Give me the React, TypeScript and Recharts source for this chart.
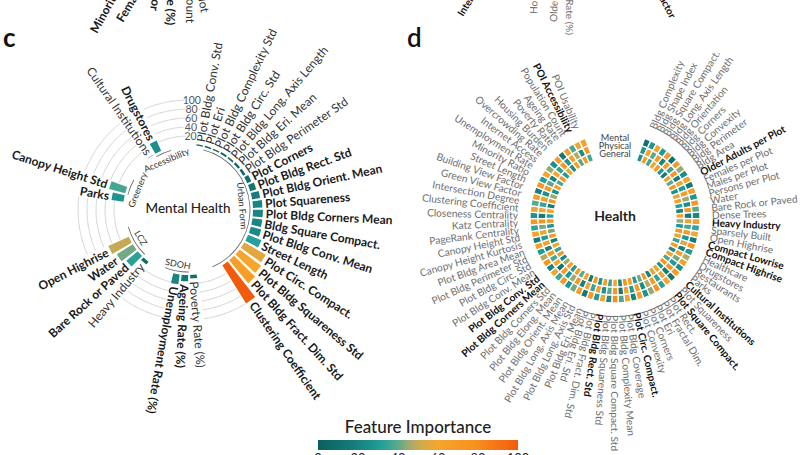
import React from 'react';
import {
  RadialBarChart, RadialBar, PolarAngleAxis, PolarRadiusAxis,
  PieChart, Pie, Cell, Sector,
} from 'recharts';

const FONT = "Lato, 'Noto Sans', 'DejaVu Sans', sans-serif";
const RAD = Math.PI / 180;

// ---------- colour scale (Feature Importance) ----------
const cmapStops: [number, string][] = [
  [0, '#0d5f61'], [18, '#167c7a'], [32, '#23a09a'], [40, '#5aa98f'], [46, '#a6aa6c'],
  [52, '#d4a94a'], [60, '#f4a62c'], [78, '#f8911f'], [100, '#f35b0c'],
];
const colorbarTicks = [0, 20, 40, 60, 80, 100];

// ---------- panel c data ----------
const cUrbanForm = [
  'Plot Bldg Conv. Std', 'Plot Eri', 'Plot Bldg Complexity Std', 'Plot Bldg Circ. Std',
  'Plot Bldg Long. Axis Length', 'Plot Bldg Eri. Mean', 'Plot Bldg Perimeter Std', 'Plot Corners',
  'Plot Bldg Rect. Std', 'Plot Bldg Orient. Mean', 'Plot Squareness', 'Plot Bldg Corners Mean',
  'Bldg Square Compact.', 'Plot Bldg Conv. Mean', 'Street Length', 'Plot Circ. Compact.',
  'Plot Bldg Squareness Std', 'Plot Bldg Fract. Dim. Std', 'Clustering Coefficient',
];
const cUrbanFormValues = [3, 3, 3, 4, 4, 5, 6, 10, 14, 18, 21, 22, 22, 24, 32, 55, 60, 66, 100];
const cSdoh = ['Poverty Rate (%)', 'Ageing Rate (%)', 'Unemployment Rate (%)'];
const cSdohValues = [8, 14, 22];
const cLcz = ['Heavy Industry', 'Bare Rock or Paved', 'Water', 'Open Highrise'];
const cLczValues = [8, 33, 42, 50];
const cGreenery = ['Parks', 'Canopy Height Std'];
const cGreeneryValues = [27, 37];
const cAccess = ['Cultural Institutions', 'Drugstores'];
const cAccessValues = [1, 25];
const cBold = [
  'Plot Corners', 'Plot Bldg Rect. Std', 'Plot Bldg Orient. Mean', 'Plot Squareness',
  'Plot Bldg Corners Mean', 'Bldg Square Compact.', 'Plot Bldg Conv. Mean', 'Street Length',
  'Plot Circ. Compact.', 'Plot Bldg Squareness Std', 'Plot Bldg Fract. Dim. Std',
  'Clustering Coefficient', 'Ageing Rate (%)', 'Unemployment Rate (%)', 'Bare Rock or Paved',
  'Water', 'Open Highrise', 'Parks', 'Canopy Height Std', 'Drugstores',
];
const cGroupNames = ['Urban Form', 'SDOH', 'LCZ', 'Greenery', 'Accessibility'];
const cGapSlots = [3, 3, 4, 4, 4];
const cTicks = [20, 40, 60, 80, 100];

// ---------- panel d data ----------
const dFeatures = [
  'Bldg Complexity', 'Bldg Shape Index', 'Bldg Square Compact.', 'Bldg Long. Axis Length',
  'Bldg Orientation', 'Bldg Corners', 'Bldg Convexity', 'Bldg Perimeter', 'Bldg Area',
  'Older Adults per Plot', 'Females per Plot', 'Males per Plot', 'Persons per Plot', 'Water',
  'Bare Rock or Paved', 'Dense Trees', 'Heavy Industry', 'Sparsely Built', 'Open Highrise',
  'Compact Lowrise', 'Compact Highrise', 'Healthcare', 'Drugstores', 'Restaurants', 'Parks',
  'Cultural Institutions', 'Plot Squareness', 'Plot Square Compact.', 'Plot Rect.',
  'Plot Fractal Dim.', 'Plot Eri', 'Plot Corners', 'Plot Convexity', 'Plot Circ. Compact.',
  'Plot Bldg Coverage', 'Plot Bldg Complexity Mean', 'Plot Bldg Square Compact. Std',
  'Plot Bldg Squareness Std', 'Plot Bldg Rect. Std', 'Plot Bldg Fract. Dim. Std',
  'Plot Bldg Eri. Std', 'Plot Bldg Eri. Mean', 'Plot Bldg Long. Axis Std',
  'Plot Bldg Long. Axis Mean', 'Plot Bldg Orient. Mean', 'Plot Bldg Elong. Mean',
  'Plot Bldg Corners Std', 'Plot Bldg Corners Mean', 'Plot Bldg Conv. Std', 'Plot Bldg Conv. Mean',
  'Plot Bldg Circ. Std', 'Plot Bldg Perimeter Std', 'Plot Bldg Area Mean', 'Canopy Height Kurtosis',
  'Canopy Height Std', 'PageRank Centrality', 'Katz Centrality', 'Closeness Centrality',
  'Clustering Coefficient', 'Intersection Degree', 'Green View Factor', 'Building View Factor',
  'Street Length', 'Minority Ratio', 'Unemployment Rate', 'Internet Access', 'Overcrowding Rate',
  'Housing Burden', 'Poverty Rate', 'Ageing Rate', 'Population Count', 'POI Accessibility',
  'POI Usability',
];
const dBold = [
  'Older Adults per Plot', 'Heavy Industry', 'Compact Lowrise', 'Compact Highrise',
  'Cultural Institutions', 'Plot Square Compact.', 'Plot Circ. Compact.', 'Plot Bldg Rect. Std',
  'Plot Bldg Corners Mean', 'Plot Bldg Conv. Std', 'POI Accessibility',
];
const dMental = [
  12, 28, 62, 30, 66, 10, 70, 45, 25, 62, 15, 68, 28, 72, 40, 22, 66, 35, 58, 18, 74, 30, 48, 64, 25,
  70, 12, 60, 33, 75, 44, 27, 68, 20, 62, 38, 80, 24, 57, 30, 70, 15, 65, 42, 28, 72, 36, 60, 22, 76,
  48, 30, 66, 18, 63, 34, 71, 26, 55, 40, 68, 20, 74, 32, 62, 45, 25, 70, 15, 66, 38, 58, 64,
];
const dPhysical = [
  28, 62, 40, 70, 22, 66, 35, 74, 18, 58, 30, 68, 45, 25, 72, 15, 63, 38, 70, 28, 55, 20, 66, 42, 30,
  75, 18, 60, 34, 70, 48, 24, 68, 30, 62, 15, 72, 40, 26, 64, 35, 58, 20, 74, 45, 28, 66, 12, 60, 38,
  70, 22, 64, 30, 56, 42, 75, 18, 62, 35, 68, 26, 72, 40, 20, 60, 34, 74, 28, 66, 48, 25, 70,
];
const dGeneral = [
  25, 70, 36, 60, 72, 30, 18, 64, 40, 74, 26, 55, 68, 32, 20, 66, 45, 28, 72, 60, 35, 70, 24, 62, 38,
  74, 28, 56, 66, 20, 70, 42, 30, 64, 75, 22, 58, 36, 68, 26, 72, 15, 60, 40, 70, 30, 64, 46, 24, 72,
  35, 60, 20, 68, 42, 28, 74, 32, 62, 18, 70, 45, 26, 66, 38, 72, 30, 58, 24, 64, 40, 70, 36,
];
const dRingNames = ['Mental', 'Physical', 'General'];

// ---------- helpers ----------
function hexToRgb(h: string) {
  const n = parseInt(h.slice(1), 16);
  return [(n >> 16) & 255, (n >> 8) & 255, n & 255];
}
function colorOf(v: number) {
  const x = Math.max(0, Math.min(100, v));
  for (let i = 1; i < cmapStops.length; i++) {
    const [v0, c0] = cmapStops[i - 1];
    const [v1, c1] = cmapStops[i];
    if (x <= v1) {
      const t = (x - v0) / (v1 - v0);
      const a = hexToRgb(c0);
      const b = hexToRgb(c1);
      return `rgb(${a.map((av, k) => Math.round(av + (b[k] - av) * t)).join(',')})`;
    }
  }
  return cmapStops[cmapStops.length - 1][1];
}
const thetaOf = (mid: number) => (((90 - mid) % 360) + 360) % 360;
function radialText(cx: number, cy: number, r: number, mid: number, flip: number) {
  const theta = thetaOf(mid);
  const x = cx + r * Math.cos(mid * RAD);
  const y = cy - r * Math.sin(mid * RAD);
  const right = theta < flip;
  return { x, y, anchor: right ? 'start' : 'end', rot: right ? theta - 90 : theta - 270 };
}

// ---------- build panel c table ----------
const cGroupFeatures = [cUrbanForm, cSdoh, cLcz, cGreenery, cAccess];
const cGroupValues = [cUrbanFormValues, cSdohValues, cLczValues, cGreeneryValues, cAccessValues];
const cData: any[] = [];
let gapId = 0;
cGroupNames.forEach((g, gi) => {
  cGroupFeatures[gi].forEach((n, k) =>
    cData.push({ name: n, value: cGroupValues[gi][k], bold: cBold.includes(n), gap: false }));
  for (let s = 0; s < cGapSlots[gi]; s++) {
    cData.push({ name: `gap${gapId++}`, value: 100, gap: true });
  }
});
const cGroupRing = cGroupNames.flatMap((g, gi) => [
  { name: g, slots: cGroupFeatures[gi].length, gap: false },
  { name: `sep${gi}`, slots: cGapSlots[gi], gap: true },
]);

const C_CX = 188, C_CY = 210, C_IN = 65, C_OUT = 110;
const C_START = 75.75, C_END = -284.25;
const D_CX = 615, D_CY = 218;
const D_START = 69.5, D_END = -249.5;
const dRingRadii = [[77, 85], [69, 77], [61, 69]];
const dRingValues = [dMental, dPhysical, dGeneral];

function CBar(props: any) {
  const { cx, cy, innerRadius, outerRadius, startAngle, endAngle } = props;
  const p = props.payload ?? props;
  const mid = (startAngle + endAngle) / 2;
  const half = Math.abs(endAngle - startAngle) / 2;
  if (p.gap) {
    return (
      <g>
        {cTicks.map((t) => {
          const r = innerRadius + ((outerRadius - innerRadius) * t) / 100;
          const a0 = mid + half, a1 = mid - half;
          const x0 = cx + r * Math.cos(a0 * RAD), y0 = cy - r * Math.sin(a0 * RAD);
          const x1 = cx + r * Math.cos(a1 * RAD), y1 = cy - r * Math.sin(a1 * RAD);
          return <path key={t} d={`M${x0},${y0}A${r},${r} 0 0 1 ${x1},${y1}`} fill="none" stroke="#d4d4d4" strokeWidth={0.9} />;
        })}
      </g>
    );
  }
  const lab = radialText(cx, cy, outerRadius + 3, mid, 197);
  return (
    <g>
      <Sector cx={cx} cy={cy} innerRadius={innerRadius} outerRadius={outerRadius}
        startAngle={mid - half * 0.72} endAngle={mid + half * 0.72} fill={colorOf(p.value)} stroke="none" />
      <text x={lab.x} y={lab.y} transform={`rotate(${lab.rot},${lab.x},${lab.y})`}
        textAnchor={lab.anchor as any} dominantBaseline="central" fontSize={12}
        fontWeight={p.bold ? 700 : 400} fill={p.bold ? '#1a1a1a' : '#333'} fontFamily={FONT}>
        {p.name}
      </text>
    </g>
  );
}

const renderRadiusTick = (tp: any) => (
  <text x={tp.x} y={tp.y} textAnchor="middle" dominantBaseline="central" fontSize={10.5}
    fill="#555" stroke="#fff" strokeWidth={2.5} style={{ paintOrder: 'stroke' }} fontFamily={FONT}>
    {tp.payload.value}
  </text>
);

const renderGroupLabel = (props: any) => {
  const { cx, cy, midAngle, index, innerRadius } = props;
  const seg = cGroupRing[index];
  if (!seg || seg.gap) return <g />;
  const theta = thetaOf(midAngle);
  const r = innerRadius - 7;
  const x = cx + r * Math.cos(midAngle * RAD);
  const y = cy - r * Math.sin(midAngle * RAD);
  const rot = theta > 90 && theta < 270 ? theta - 180 : theta;
  return (
    <text x={x} y={y} transform={`rotate(${rot},${x},${y})`} textAnchor="middle"
      dominantBaseline="central" fontSize={9} fill="#333" fontFamily={FONT}>{seg.name}</text>
  );
};

const renderDLabel = (props: any) => {
  const { cx, cy, midAngle, outerRadius, index } = props;
  const name = dFeatures[index];
  const bold = dBold.includes(name);
  const lab = radialText(cx, cy, outerRadius + 12, midAngle, 199.5);
  return (
    <text x={lab.x} y={lab.y} transform={`rotate(${lab.rot},${lab.x},${lab.y})`}
      textAnchor={lab.anchor as any} dominantBaseline="central" fontSize={10.2}
      fontWeight={bold ? 700 : 400} fill={bold ? '#111' : '#6e6e6e'} fontFamily={FONT}>{name}</text>
  );
};

const abs: React.CSSProperties = { position: 'absolute', left: 0, top: 0 };

export default function App() {
  const dData = dRingValues.map((vals) => dFeatures.map((f, i) => ({ name: f, slot: 1, imp: vals[i] })));
  return (
    <div style={{ position: 'absolute', left: 0, top: 0, width: 808, height: 455, background: '#fff', overflow: 'hidden', fontFamily: FONT }}>
      <div style={abs}>
        <RadialBarChart width={808} height={455} data={cData} layout="centric" cx={C_CX} cy={C_CY}
          innerRadius={C_IN} outerRadius={C_OUT} startAngle={C_START} endAngle={C_END}
          barCategoryGap={0} margin={{ top: 0, right: 0, bottom: 0, left: 0 }}>
          <PolarAngleAxis type="category" dataKey="name" tick={false} axisLine={false} tickLine={false} />
          <RadialBar dataKey="value" shape={CBar} isAnimationActive={false} />
          <PolarRadiusAxis type="number" domain={[0, 100]} angle={88} orientation="middle"
            ticks={cTicks} tick={renderRadiusTick} axisLine={false} tickLine={false} />
        </RadialBarChart>
      </div>
      <div style={abs}>
        <PieChart width={808} height={455} margin={{ top: 0, right: 0, bottom: 0, left: 0 }}>
          <Pie data={cGroupRing} dataKey="slots" cx={C_CX} cy={C_CY} innerRadius={61.6} outerRadius={62.4}
            startAngle={C_START} endAngle={C_END} stroke="none" label={renderGroupLabel} labelLine={false}
            isAnimationActive={false}>
            {cGroupRing.map((s, i) => <Cell key={i} fill={s.gap ? 'none' : '#666'} />)}
          </Pie>
          {dData.map((ring, ri) => (
            <Pie key={ri} data={ring} dataKey="slot" cx={D_CX} cy={D_CY}
              innerRadius={dRingRadii[ri][0]} outerRadius={dRingRadii[ri][1]}
              startAngle={D_START} endAngle={D_END} stroke="#fff" strokeWidth={1.3}
              label={ri === 0 ? renderDLabel : false} labelLine={false} isAnimationActive={false}>
              {ring.map((d, i) => <Cell key={i} fill={colorOf(d.imp)} />)}
            </Pie>
          ))}
        </PieChart>
      </div>
      <svg width={808} height={455} style={{ ...abs, pointerEvents: 'none' }} fontFamily={FONT}>
        <defs>
          <linearGradient id="fi" x1="0" x2="1" y1="0" y2="0">
            {cmapStops.map(([v, c]) => <stop key={v} offset={`${v}%`} stopColor={c} />)}
          </linearGradient>
        </defs>
        {/* panel letters */}
        <text x={3} y={47} fontSize={26} fontWeight={700} fill="#111">c</text>
        <text x={407} y={47} fontSize={26} fontWeight={600} fill="#111">d</text>
        {/* centre captions */}
        <text x={C_CX} y={C_CY - 2} textAnchor="middle" dominantBaseline="central" fontSize={13.5} fontWeight={500} fill="#222">Mental Health</text>
        <text x={D_CX} y={D_CY - 3} textAnchor="middle" dominantBaseline="central" fontSize={14} fontWeight={700} fill="#222">Health</text>
        {dRingNames.map((n, i) => (
          <text key={n} x={D_CX} y={D_CY - (dRingRadii[i][0] + dRingRadii[i][1]) / 2} textAnchor="middle"
            dominantBaseline="central" fontSize={9.2} fill="#444">{n}</text>
        ))}
        {/* cut-off labels of the panels above */}
        <text x={97} y={34} transform="rotate(-61,97,34)" fontSize={12} fontWeight={700} fill="#1a1a1a">Minority Ratio</text>
        <text x={123} y={23} transform="rotate(-59,123,23)" fontSize={12} fontWeight={700} fill="#1a1a1a">Female Ratio</text>
        <text x={150} y={10} transform="rotate(100,150,10)" textAnchor="end" fontSize={12} fontWeight={700} fill="#1a1a1a">Building View Factor</text>
        <text x={166} y={25} transform="rotate(92,166,25)" textAnchor="end" fontSize={12} fontWeight={700} fill="#1a1a1a">Ageing Rate (%)</text>
        <text x={186} y={23} transform="rotate(91,186,23)" textAnchor="end" fontSize={12} fill="#333">Population Count</text>
        <text x={201} y={13} transform="rotate(80,201,13)" textAnchor="end" fontSize={12} fill="#333">Persons per Plot</text>
        <text x={463} y={17} transform="rotate(-58,463,17)" fontSize={10} fontWeight={700} fill="#111">Internet Access</text>
        <text x={537} y={14} transform="rotate(-88,537,14)" fontSize={10} fill="#6e6e6e">Housing Burden</text>
        <text x={557} y={22} transform="rotate(-88,557,22)" fontSize={10} fill="#6e6e6e">Older Adults</text>
        <text x={566} y={35} transform="rotate(90,566,35)" textAnchor="end" fontSize={10} fill="#6e6e6e">Poverty Rate (%)</text>
        <text x={670} y={19} transform="rotate(62,670,19)" textAnchor="end" fontSize={10} fontWeight={700} fill="#111">Building View Factor</text>
        {/* colour bar */}
        <text x={418} y={433} textAnchor="middle" fontSize={17} fontWeight={500} fill="#222">Feature Importance</text>
        <rect x={318} y={440} width={200} height={10} fill="url(#fi)" />
        {colorbarTicks.map((t) => (
          <text key={t} x={318 + (t / 100) * 200} y={463} textAnchor="middle" fontSize={13} fill="#222">{t}</text>
        ))}
      </svg>
    </div>
  );
}
